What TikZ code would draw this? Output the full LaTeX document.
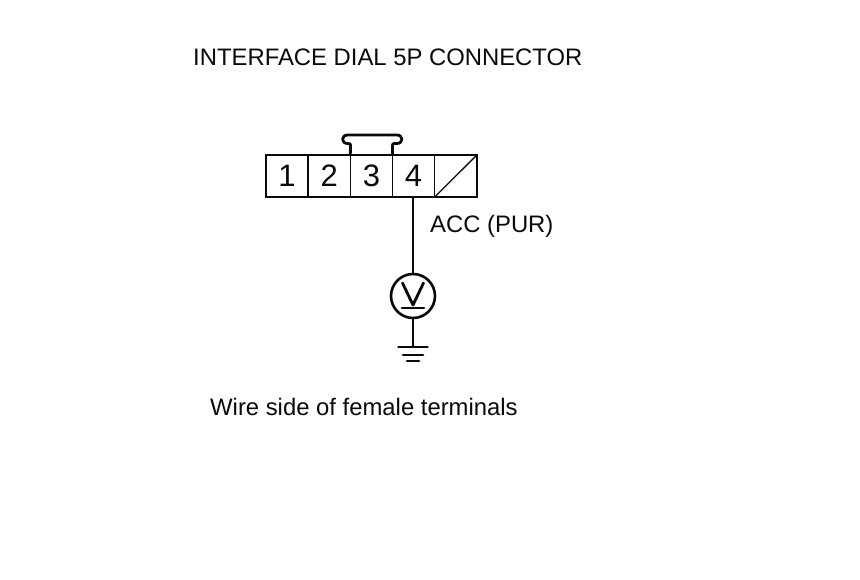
\documentclass[tikz,border=0pt]{standalone}
\usepackage{fontspec}
\setmainfont{Liberation Sans}
\definecolor{inkc}{HTML}{0A0A0A}
\tikzset{
  thick line/.style={line width=2.8pt,line cap=round,line join=round,color=inkc},
  thin line/.style={line width=1.3pt,color=inkc},
  cell/.style={draw=inkc,line width=1.3pt,minimum width=42.2pt,minimum height=42pt,inner sep=0pt,outer sep=0pt,text=inkc,text height=22pt,font=\fontsize{31}{31}\selectfont},
  lbl/.style={inner sep=0pt,anchor=base west,text=inkc,font=\fontsize{23.85}{24}\selectfont},
  meter/.style={circle,draw=inkc,line width=2.6pt,minimum size=44pt,inner sep=0pt,outer sep=0pt}
}
\begin{document}
\begin{tikzpicture}[x=1pt,y=-1pt]
\useasboundingbox (0,0) rectangle (860,580);
\fill[white] (0,0) rectangle (860,580);
\node[lbl] (title) at (193,66) {INTERFACE DIAL 5P CONNECTOR};
\node[cell] (c1) at (287,176) {1};
\node[cell] (c2) at (329.2,176) {2};
\node[cell] (c3) at (371.4,176) {3};
\node[cell] (c4) at (413.6,176) {4};
\node[cell] (c5) at (455.8,176) {};
\draw[thick line] (c1.north west) -- (c5.north east) -- (c5.south east) -- (c1.south west) -- cycle;
\draw[thin line] (c5.south west) -- (c5.north east);
\draw[thick line] (c3.north west) -- (350.5,147) .. controls (350.5,143.5) .. (347.5,143.5)
  .. controls (341,143.5) and (341,135) .. (347.5,135) -- (397,135)
  .. controls (403.5,135) and (403.5,143.5) .. (397,143.5) .. controls (392.5,143.5) .. (392.5,147) -- (c3.north east);
\node[lbl] (acc) at (430,232.5) {ACC (PUR)};
\node[meter] (v) at (413,296) {};
\draw[thin line] (413,197) -- (v.north);
\draw[thick line] ([shift={(-10.5,-13)}]v.center) -- ([shift={(0,9)}]v.center) -- ([shift={(10.5,-13)}]v.center);
\draw[thick line] ([shift={(-11,12)}]v.center) -- ([shift={(11,12)}]v.center);
\coordinate (g) at (413,347);
\draw[thin line] (v.south) -- (g);
\draw[thick line] ([xshift=-14.5pt]g) -- ([xshift=14.5pt]g);
\draw[thick line] ([shift={(-10,8)}]g) -- ([shift={(10,8)}]g);
\draw[thick line] ([shift={(-6,14)}]g) -- ([shift={(6,14)}]g);
\node[lbl] (side) at (210,415) {Wire side of female terminals};
\end{tikzpicture}
\end{document}
